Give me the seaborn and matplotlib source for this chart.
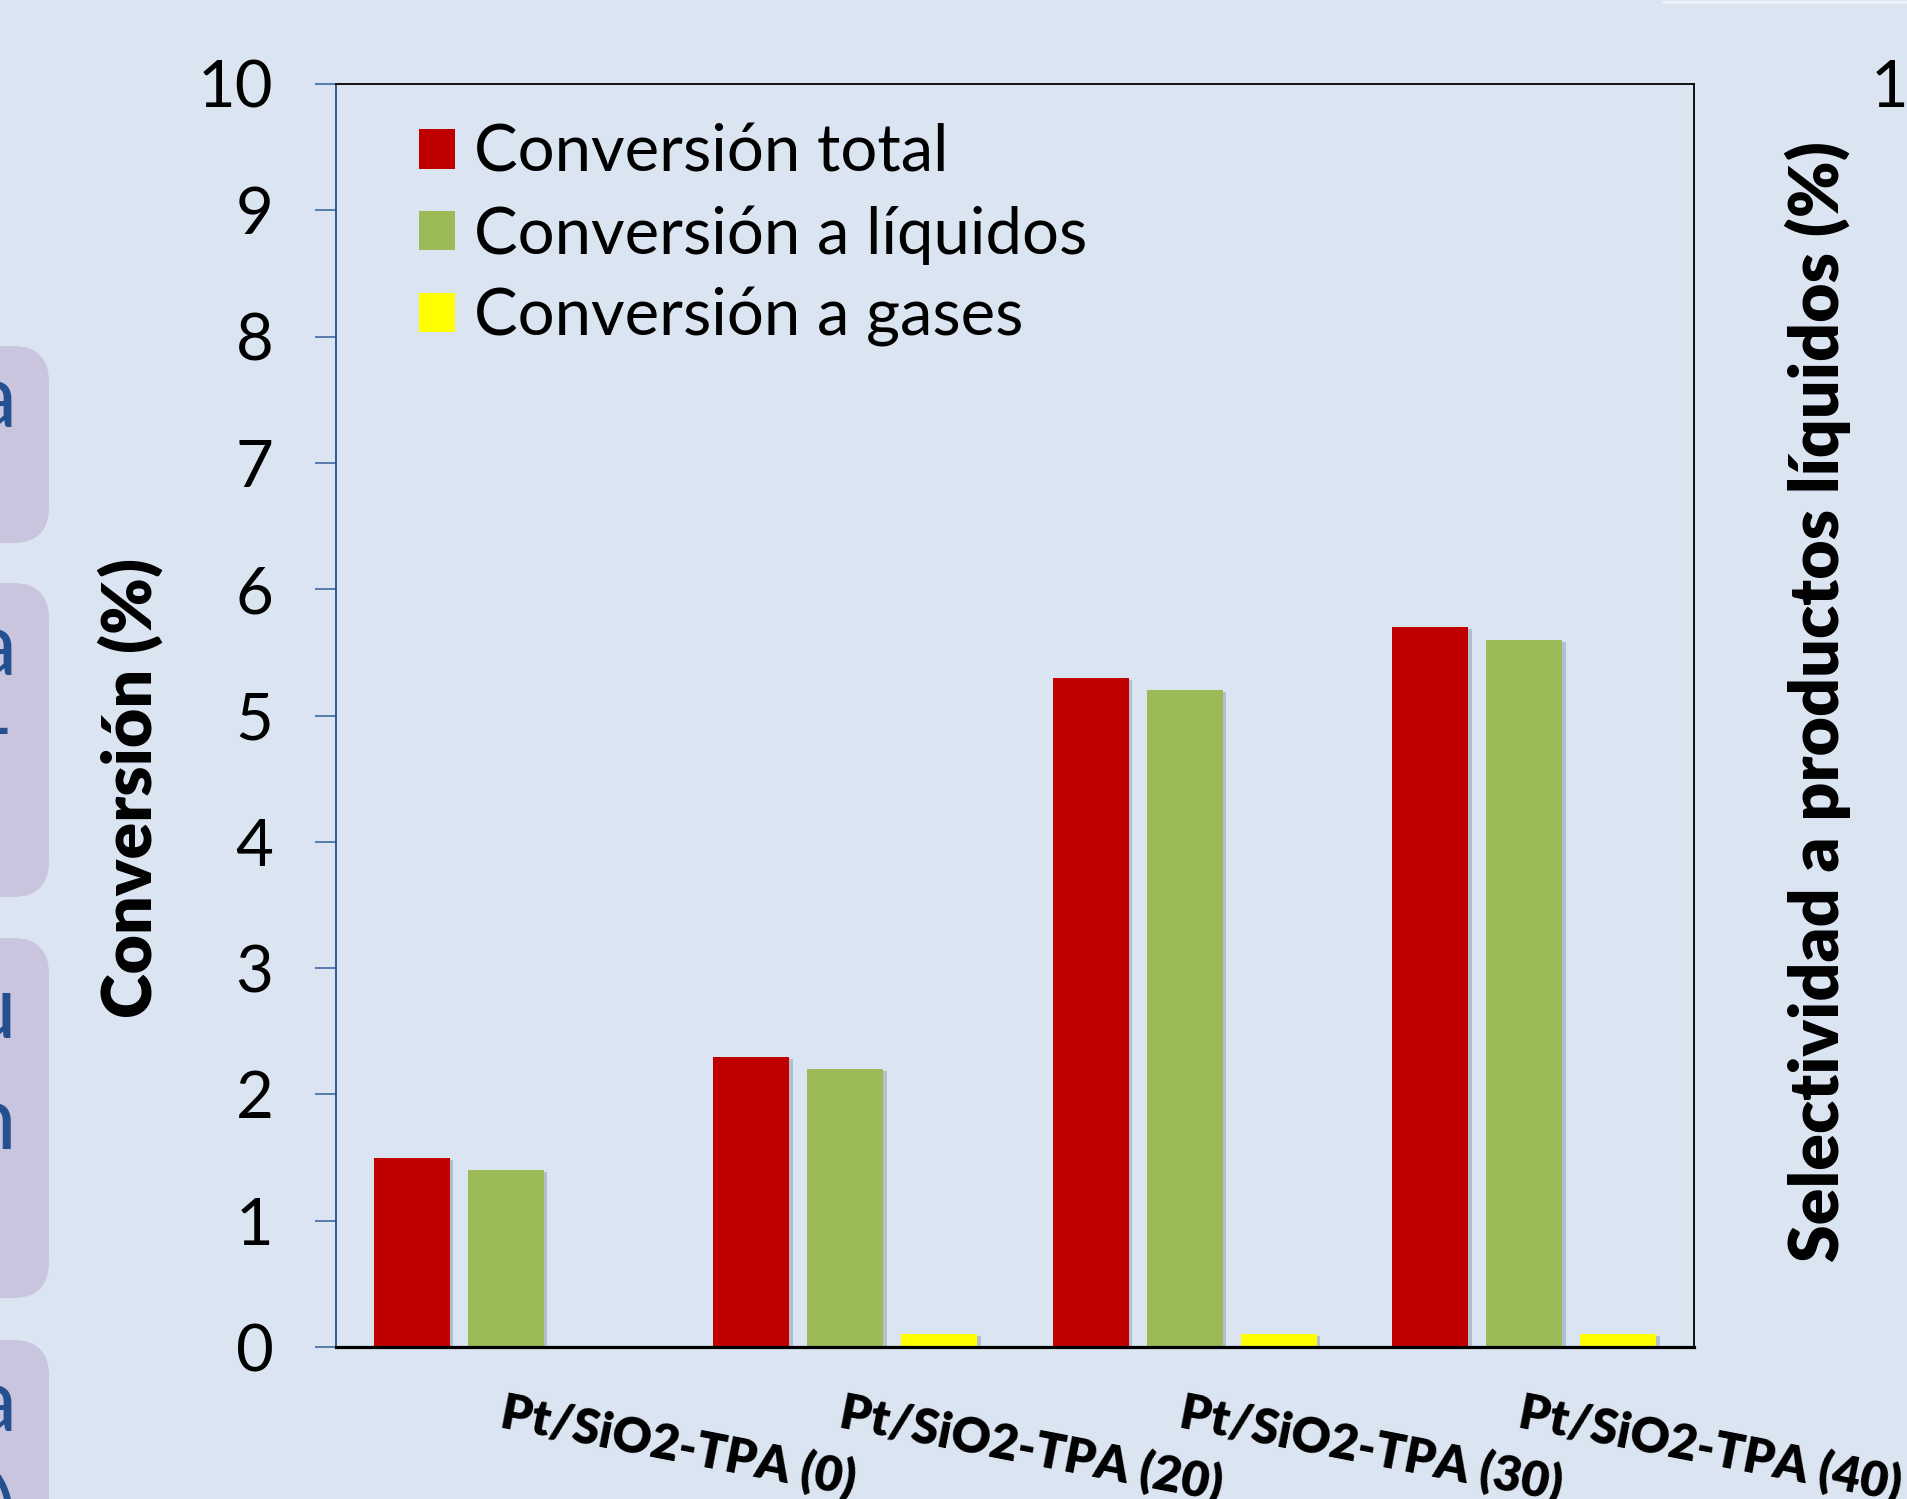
import numpy as np
import pandas as pd
import matplotlib
matplotlib.use("Agg")
import matplotlib.pyplot as plt
import matplotlib.patheffects as pe
import matplotlib.transforms as mtransforms
from matplotlib.patches import Patch, FancyBboxPatch
from matplotlib.lines import Line2D
import seaborn as sns

# ---- data -------------------------------------------------------------
catalysts = ["Pt/SiO2-TPA (0)", "Pt/SiO2-TPA (20)", "Pt/SiO2-TPA (30)", "Pt/SiO2-TPA (40)"]
series = ["Conversión total", "Conversión a líquidos", "Conversión a gases"]
conv_total = [1.5, 2.3, 5.3, 5.7]
conv_liquids = [1.4, 2.2, 5.2, 5.6]
conv_gases = [0.0, 0.1, 0.1, 0.1]
conv_ticks = list(range(0, 11))
sel_ticks = list(range(0, 101, 20))
bar_colors = ["#C00000", "#9BBB59", "#FFFF00"]

df = pd.DataFrame({
    "Catalizador": catalysts * len(series),
    "Serie": np.repeat(series, len(catalysts)),
    "Conversión": conv_total + conv_liquids + conv_gases,
})

# ---- style ------------------------------------------------------------
BG = "#DBE5F1"
W, H, DPI = 1907, 1499, 100
sns.set_theme(style="white")
plt.rcParams["font.family"] = ["Lato", "DejaVu Sans"]
plt.rcParams["text.color"] = "black"
plt.rcParams["axes.labelcolor"] = "black"
plt.rcParams["axes.facecolor"] = BG
plt.rcParams["figure.facecolor"] = BG

fig = plt.figure(figsize=(W / DPI, H / DPI), dpi=DPI, facecolor=BG)
ax = fig.add_axes([336 / W, 1 - 1347 / H, (1694 - 336) / W, (1347 - 84) / H])
ax.set_facecolor(BG)

sns.barplot(data=df, x="Catalizador", y="Conversión", hue="Serie",
            palette=bar_colors, saturation=1, width=0.83, gap=0.19,
            linewidth=0, ax=ax, legend=False, zorder=2)

# soft drop shadow under each bar
for p in ax.patches:
    p.set_path_effects([pe.SimplePatchShadow(offset=(2.5, -1.5), shadow_rgbFace="#6b7890", alpha=0.35),
                        pe.Normal()])

ax.set_xlim(-0.5, 3.5)
ax.set_ylim(0, 10)
ax.set_yticks(conv_ticks)
ax.set_xlabel("")

# frame
for side in ("top", "right"):
    ax.spines[side].set_visible(True)
    ax.spines[side].set_color("black")
    ax.spines[side].set_linewidth(1.3)
ax.spines["bottom"].set_color("black")
ax.spines["bottom"].set_linewidth(2.3)
ax.spines["left"].set_color("#1F4E8C")
ax.spines["left"].set_linewidth(1.3)

ax.tick_params(axis="y", left=True, direction="out", length=15, width=1.3,
               color="#4A72A8", pad=30, labelsize=47, labelcolor="black")
ax.tick_params(axis="x", bottom=False, length=0, pad=30, labelsize=35, labelcolor="black")
plt.setp(ax.get_xticklabels(), rotation=-11, ha="left", va="top",
         rotation_mode="anchor", fontweight="heavy")

ax.set_ylabel("Conversión (%)", fontsize=49, fontweight="heavy", color="black")
ax.yaxis.set_label_coords(-0.151, 0.443)
ax.yaxis.label.set_ha("center")
ax.yaxis.label.set_va("center")

# secondary axis (selectivity)
ax2 = ax.twinx()
ax2.set_ylim(0, 100)
ax2.set_yticks(sel_ticks)
for side in ax2.spines.values():
    side.set_visible(False)
ax2.tick_params(axis="y", right=True, length=0, pad=209, labelsize=47, labelcolor="black")
plt.setp(ax2.get_yticklabels(), ha="right")
ax2.set_ylabel("Selectividad a productos líquidos (%)", fontsize=49, fontweight="heavy", color="black")
ax2.yaxis.set_label_coords(1.0913, 0.511)
ax2.yaxis.label.set_ha("center")
ax2.yaxis.label.set_va("center")

# legend
handles = [Patch(facecolor=c, edgecolor="none") for c in bar_colors]
leg = ax.legend(handles, series, loc="upper left", bbox_to_anchor=(419 / W, 1 - 124 / H),
                bbox_transform=fig.transFigure, frameon=False,
                prop={"size": 47}, labelcolor="black",
                handlelength=0.55, handleheight=0.55, handletextpad=0.3,
                labelspacing=0.34, borderpad=0, borderaxespad=0)

# slide side panels at the left edge
px = mtransforms.IdentityTransform()
panel_spans = [(346, 543), (583, 897), (938, 1298), (1340, 1580)]
for top, bottom in panel_spans:
    fig.add_artist(FancyBboxPatch((-80, H - bottom), 129, bottom - top,
                                  boxstyle="round,pad=0,rounding_size=36",
                                  facecolor="#CAC5DF", edgecolor="none",
                                  transform=px, zorder=0))
panel_letters = [("a", 1071), ("a", 824), ("–", 742), ("u", 461), ("n", 350), ("a", 68), (")", -45)]
for ch, yb in panel_letters:
    fig.text(16, yb, ch, transform=px, ha="right", va="baseline",
             fontsize=64, color="#24508F")

fig.add_artist(Line2D([1663, W], [H - 1.5, H - 1.5], transform=px, color="#EEF3FA", lw=2))

fig.savefig("out.png", dpi=DPI, facecolor=BG)
